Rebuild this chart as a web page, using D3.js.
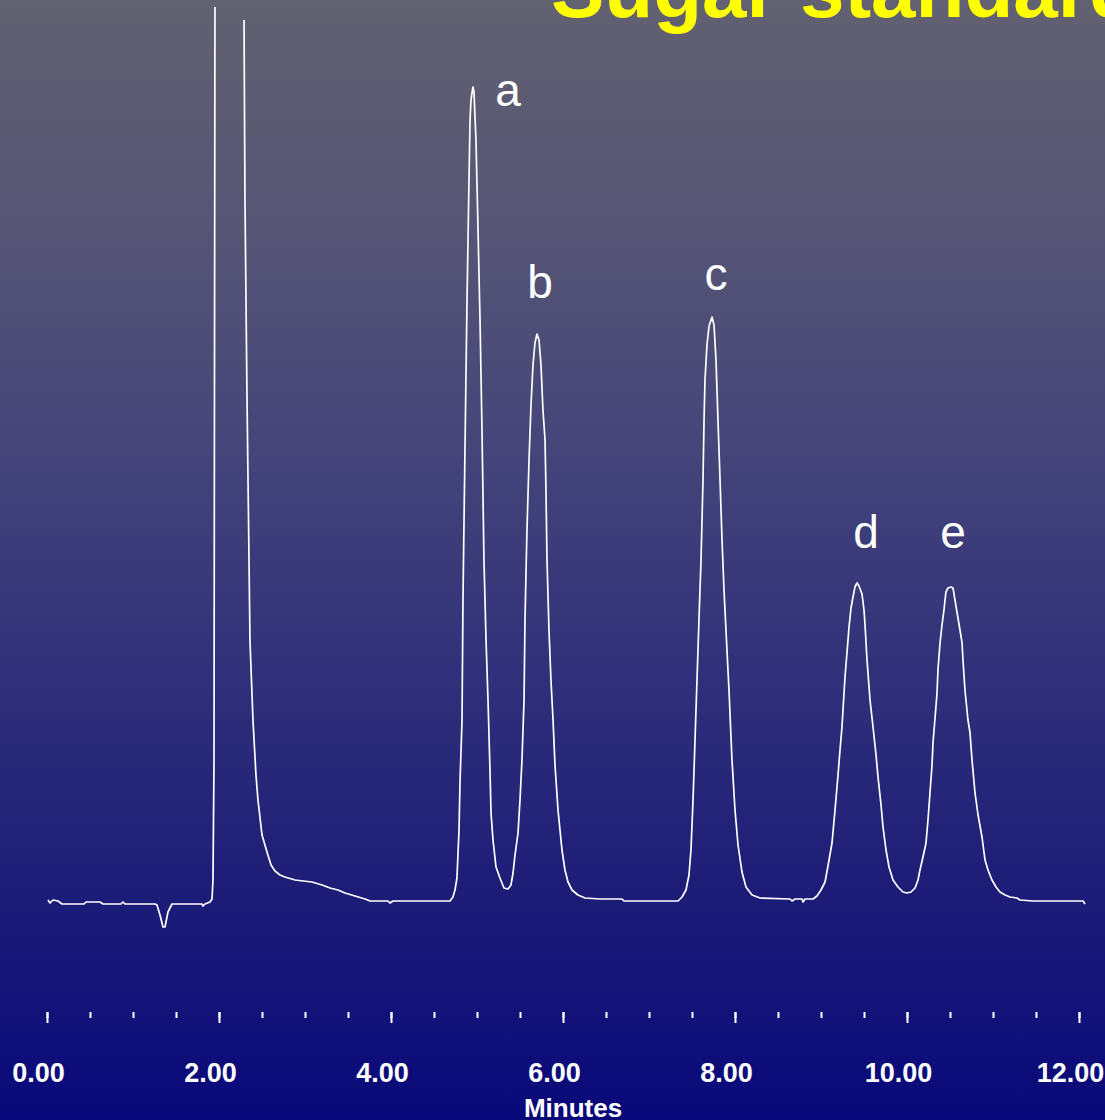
<!DOCTYPE html>
<html lang="en">
<head>
<meta charset="utf-8">
<title>Sugar standard chromatogram</title>
<script src="https://cdn.jsdelivr.net/npm/d3@7"></script>
<style>
  html, body { margin: 0; padding: 0; overflow: hidden; }
  svg { display: block; }
  text { font-family: "Liberation Sans", Arial, sans-serif; }
</style>
</head>
<body>
<script>
// chart data (minutes, detector signal)
var title = "Sugar standard";
var axisLabel = "Minutes";

var traceTime = [
  0.012, 0.035, 0.070, 0.128, 0.174, 0.430, 0.453, 0.616, 0.651, 0.860, 0.884, 0.907,
  1.256, 1.279, 1.314, 1.349, 1.372, 1.407, 1.453, 1.802, 1.814, 1.837, 1.895, 1.919,
  1.930, 1.942, 1.953, 2.100,
  2.291, 2.302, 2.326, 2.349, 2.360, 2.395, 2.430, 2.453, 2.500, 2.558, 2.605, 2.651,
  2.709, 2.767, 2.884, 3.081, 3.198, 3.291, 3.384, 3.465, 3.581, 3.698, 3.756, 3.965,
  3.988, 4.023, 4.686,
  4.721, 4.744, 4.767, 4.791, 4.802, 4.826, 4.837, 4.860, 4.884, 4.907, 4.919, 4.930,
  4.953, 4.965, 4.988, 5.012, 5.035, 5.058, 5.081, 5.105, 5.128, 5.151, 5.163, 5.186,
  5.221, 5.267, 5.314, 5.360, 5.395, 5.419, 5.442, 5.477, 5.500, 5.523, 5.547,
  5.558, 5.581, 5.605, 5.628, 5.651, 5.674, 5.698, 5.721, 5.744, 5.767, 5.791, 5.802,
  5.814, 5.837, 5.860, 5.884, 5.907, 5.942, 5.988, 6.023, 6.058, 6.105, 6.174, 6.256,
  6.430, 6.686, 6.709, 7.337,
  7.384, 7.430, 7.465, 7.488, 7.512, 7.535, 7.558, 7.581, 7.605, 7.628, 7.640, 7.651,
  7.674, 7.698, 7.733, 7.756, 7.779, 7.802, 7.826, 7.849, 7.872, 7.895, 7.930, 7.965,
  8.000, 8.035, 8.081, 8.128, 8.198, 8.291, 8.640, 8.663, 8.698, 8.779, 8.791, 8.814,
  8.907,
  8.953, 9.000, 9.047, 9.081, 9.128, 9.163, 9.198, 9.221, 9.244, 9.279, 9.314, 9.326,
  9.349, 9.372, 9.395, 9.419, 9.442, 9.477, 9.500, 9.512, 9.535, 9.570, 9.605, 9.640,
  9.663, 9.698, 9.721, 9.756, 9.791, 9.837, 9.895, 9.953, 10.000, 10.047, 10.093, 10.128,
  10.151, 10.186, 10.221, 10.244, 10.267,
  10.291, 10.302, 10.326, 10.349, 10.360, 10.384, 10.407, 10.430, 10.442, 10.453, 10.477, 10.512,
  10.535, 10.558, 10.581, 10.616, 10.640, 10.651, 10.674, 10.709, 10.733, 10.756, 10.791, 10.826,
  10.872, 10.907, 10.942, 10.988, 11.035, 11.081, 11.140, 11.198, 11.279, 11.314, 11.465, 12.047,
  12.070
];

// null = detector off scale (solvent front)
var traceSignal = [
  0.2, -0.1, 0.2, 0.1, -0.2, -0.2, 0.0, 0.0, -0.2, -0.2, 0.0, -0.2,
  -0.2, -0.3, -1.3, -2.5, -2.5, -1.0, -0.2, -0.2, -0.4, -0.2, 0.0, 0.3,
  2.2, 14.2, 89.5, null,
  88.2, 70.2, 50.2, 34.2, 26.2, 18.2, 12.7, 10.2, 6.7, 5.0, 3.7, 3.1,
  2.7, 2.5, 2.2, 2.0, 1.7, 1.4, 1.2, 0.9, 0.6, 0.3, 0.1, 0.1,
  -0.1, 0.1, 0.1,
  0.5, 1.2, 2.4, 7.2, 11.9, 18.2, 30.2, 45.2, 60.2, 72.2, 78.2, 80.2,
  81.5, 81.0, 76.2, 67.2, 58.2, 47.2, 34.2, 26.2, 20.2, 13.2, 8.9, 6.2,
  3.5, 2.4, 1.4, 1.3, 1.7, 2.9, 4.7, 6.9, 10.2, 14.2, 20.2,
  28.2, 37.2, 44.2, 49.7, 53.7, 55.9, 56.8, 56.2, 53.7, 49.2, 46.2, 41.2,
  34.2, 27.2, 22.2, 18.2, 13.7, 9.2, 5.2, 3.2, 2.0, 1.2, 0.7, 0.4,
  0.3, 0.3, 0.1, 0.1,
  0.5, 1.2, 2.7, 5.2, 10.2, 16.2, 22.2, 28.2, 34.2, 42.2, 48.2, 52.2,
  55.7, 57.6, 58.5, 57.7, 54.2, 48.2, 42.2, 36.2, 31.2, 27.2, 21.2, 14.2,
  9.2, 5.7, 3.0, 1.5, 0.7, 0.4, 0.3, 0.1, 0.3, 0.3, 0.0, 0.3,
  0.3,
  0.6, 1.2, 2.0, 3.6, 5.9, 9.2, 12.7, 15.2, 17.5, 22.5, 26.2, 27.5,
  29.4, 30.5, 31.5, 31.9, 31.6, 30.8, 29.2, 27.7, 24.2, 20.2, 17.5, 14.7,
  12.5, 9.7, 7.5, 5.2, 3.5, 2.2, 1.5, 1.0, 0.9, 1.0, 1.4, 2.2,
  3.2, 4.5, 5.9, 8.2, 10.9,
  13.7, 15.9, 18.4, 20.9, 23.2, 25.9, 27.7, 29.2, 30.2, 31.0, 31.4, 31.5,
  31.4, 30.2, 29.0, 27.2, 25.9, 24.2, 21.2, 18.2, 16.9, 14.2, 10.9, 8.7,
  6.5, 4.2, 3.2, 2.2, 1.5, 1.0, 0.7, 0.5, 0.4, 0.2, 0.1, 0.1,
  -0.2
];

var peakLabels = ["a", "b", "c", "d", "e"];
var peakLabelTime = [5.36, 5.733, 7.779, 9.523, 10.535];
var peakLabelSignal = [79.6, 60.4, 61.2, 35.4, 35.4];

var minorTicks = d3.range(0, 12.001, 0.5);
var majorTicks = [0, 2, 4, 6, 8, 10, 12];

var w = 1105;
var h = 1120;

var svg = d3.select("body").append("svg")
  .attr("width", w)
  .attr("height", h);

// slide background
var defs = svg.append("defs");
var grad = defs.append("linearGradient")
  .attr("id", "bg")
  .attr("x1", 0).attr("y1", 0)
  .attr("x2", 0).attr("y2", 1);
[[0, "#626171"], [0.2, "#565575"], [0.4, "#45457a"], [0.6, "#30307a"],
 [0.8, "#1c1c78"], [1, "#08087a"]].forEach(function (s) {
  grad.append("stop").attr("offset", s[0]).attr("stop-color", s[1]);
});
svg.append("rect")
  .attr("width", w)
  .attr("height", h)
  .attr("fill", "url(#bg)");

var xScale = d3.scaleLinear().domain([0, 12]).range([47, 1079]);
var yScale = d3.scaleLinear().domain([0, 90]).range([902, 2]);

var points = traceTime.map(function (t, i) {
  return { t: t, s: traceSignal[i] };
});

var line = d3.line()
  .defined(function (d) { return d.s != null; })
  .x(function (d) { return xScale(d.t); })
  .y(function (d) { return yScale(d.s); });

svg.append("path")
  .datum(points)
  .attr("d", line)
  .attr("fill", "none")
  .attr("stroke", "#ffffff")
  .attr("stroke-width", 1.7)
  .attr("stroke-linejoin", "round");

// peak letters
svg.selectAll(".peak-label")
  .data(peakLabels)
  .enter()
  .append("text")
  .attr("class", "peak-label")
  .attr("x", function (d, i) { return xScale(peakLabelTime[i]); })
  .attr("y", function (d, i) { return yScale(peakLabelSignal[i]); })
  .attr("text-anchor", "middle")
  .attr("font-size", "46px")
  .attr("fill", "#ffffff")
  .text(function (d) { return d; });

// time axis: minor ticks every 0.5 min, longer labelled ticks every 2 min
var axisY = 1012;

svg.append("g")
  .attr("transform", "translate(0," + axisY + ")")
  .call(d3.axisBottom(xScale).tickValues(minorTicks).tickSize(6).tickFormat(""))
  .call(function (g) { g.select(".domain").remove(); })
  .selectAll("line")
  .attr("stroke", "#ffffff")
  .attr("stroke-width", 2);

var majorAxis = svg.append("g")
  .attr("transform", "translate(0," + axisY + ")")
  .call(d3.axisBottom(xScale).tickValues(majorTicks).tickSize(11).tickFormat(d3.format(".2f")));
majorAxis.select(".domain").remove();
majorAxis.selectAll("line")
  .attr("stroke", "#ffffff")
  .attr("stroke-width", 2);
majorAxis.selectAll("text")
  .attr("y", 70)
  .attr("dy", 0)
  .attr("dx", -9)
  .attr("fill", "#ffffff")
  .attr("font-size", "27px")
  .attr("font-weight", "bold")
  .attr("font-family", "'Liberation Sans', Arial, sans-serif");

svg.append("text")
  .attr("x", xScale(6) + 10)
  .attr("y", 1117)
  .attr("text-anchor", "middle")
  .attr("font-size", "26px")
  .attr("font-weight", "bold")
  .attr("fill", "#ffffff")
  .text(axisLabel);

// title, runs off the top of the slide
svg.append("text")
  .attr("x", 551)
  .attr("y", 17)
  .attr("font-size", "80px")
  .attr("font-weight", "bold")
  .attr("fill", "#ffff00")
  .text(title);
</script>
</body>
</html>
